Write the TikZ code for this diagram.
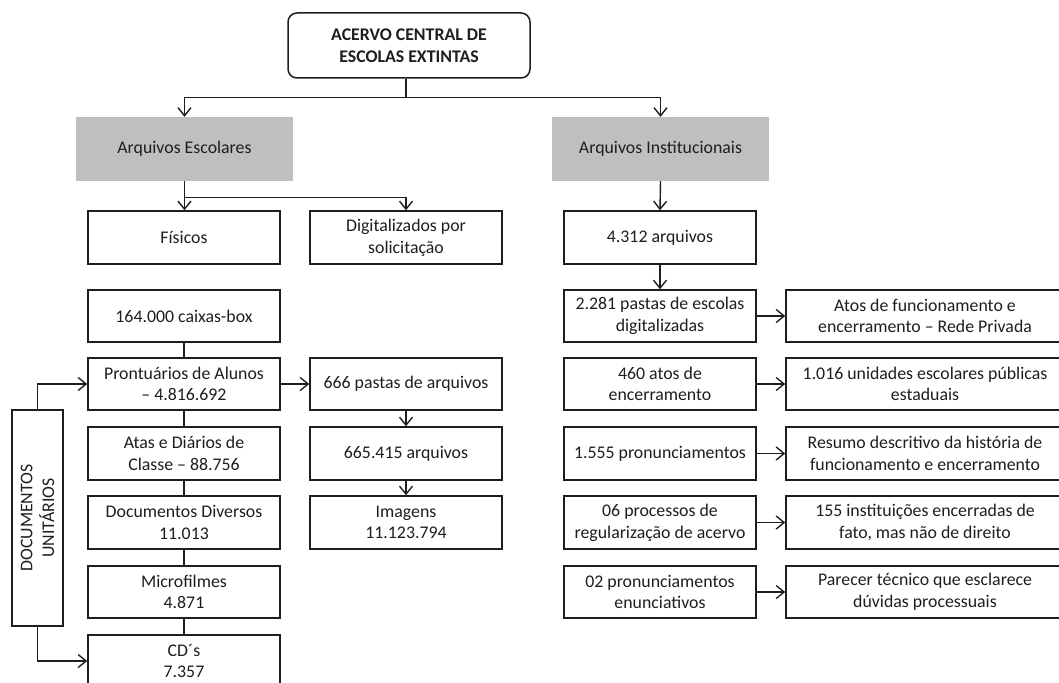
\documentclass[tikz,border=0pt]{standalone}
\usepackage{fontspec}
\setmainfont{Carlito}
\usetikzlibrary{arrows.meta}
\definecolor{grayfill}{RGB}{191,191,191}
\definecolor{ink}{RGB}{30,30,30}
\begin{document}
\begin{tikzpicture}[x=1pt,y=-1pt,
  txt/.style={font=\fontsize{17.8}{21.7}\selectfont, text=ink, align=center, inner sep=0pt},
  box/.style={txt, draw=ink, line width=1.5pt, fill=white, minimum width=#1, minimum height=52pt},
  box/.default=192pt,
  graybox/.style={txt, fill=grayfill, minimum width=217pt, minimum height=64pt},
  conn/.style={draw=ink, line width=1.4pt},
  arr/.style={conn, -{Straight Barb[length=8pt,width=13pt,line width=1.4pt]}}
]
\useasboundingbox (0,0) rectangle (1059,682);
\fill[white] (0,0) rectangle (1059,682);
\clip (0,0) rectangle (1059,682);

% top
\node[box=242pt, minimum height=65pt, rounded corners=9pt, font=\fontsize{17.8}{21.7}\selectfont\bfseries] (top) at (409,45.5) {ACERVO CENTRAL DE\\ESCOLAS EXTINTAS};
\node[graybox] (gA) at (184.5,149) {Arquivos Escolares};
\node[graybox] (gI) at (660.5,149) {Arquivos Institucionais};

\node[box, minimum height=53pt] (fis) at (184,237.5) {Físicos};
\node[box, minimum height=53pt] (dig) at (406,237.5) {Digitalizados por\\solicitação};
\node[box, minimum height=53pt] (n4312) at (660,237.5) {4.312 arquivos};

% left column
\node[box] (c164) at (184,316) {164.000 caixas-box};
\node[box] (pront) at (184,384) {Prontuários de Alunos\\– 4.816.692};
\node[box, minimum height=53pt] (atas) at (184,453.5) {Atas e Diários de\\Classe – 88.756};
\node[box, minimum height=53pt] (docd) at (184,522.5) {Documentos Diversos\\11.013};
\node[box] (micro) at (184,592) {Microfilmes\\4.871};
\node[box] (cds) at (184,661) {CD´s\\7.357};

% documentos unitarios
\node[txt, draw=ink, line width=1.5pt, rotate=90, minimum width=216pt, minimum height=51pt] (doc) at (37.5,518) {DOCUMENTOS\\UNITÁRIOS};

% middle column
\node[box] (p666) at (406,384) {666 pastas de arquivos};
\node[box, minimum height=53pt] (a665) at (406,453.5) {665.415 arquivos};
\node[box, minimum height=53pt] (img) at (406,522.5) {Imagens\\11.123.794};

% right columns
\node[box] (r1) at (660,316) {2.281 pastas de escolas\\digitalizadas};
\node[box] (r2) at (660,384) {460 atos de\\encerramento};
\node[box, minimum height=53pt] (r3) at (660,453.5) {1.555 pronunciamentos};
\node[box, minimum height=53pt] (r4) at (660,522.5) {06 processos de\\regularização de acervo};
\node[box] (r5) at (660,592) {02 pronunciamentos\\enunciativos};

\node[box=278pt] (s1) at (925,316) {Atos de funcionamento e\\encerramento – Rede Privada};
\node[box=278pt] (s2) at (925,384) {1.016 unidades escolares públicas\\estaduais};
\node[box=278pt, minimum height=53pt] (s3) at (925,453.5) {Resumo descritivo da história de\\funcionamento e encerramento};
\node[box=278pt, minimum height=53pt] (s4) at (925,522.5) {155 instituições encerradas de\\fato, mas não de direito};
\node[box=278pt] (s5) at (925,592) {Parecer técnico que esclarece\\dúvidas processuais};

% connectors
\draw[conn] ([xshift=-3pt]top.south) -- ++(0,19) coordinate (j1);
\draw[arr] (j1) -| (gA.north);
\draw[arr] (j1) -| (gI.north);
\draw[arr] (gA.south) -- (gA.south |- fis.north);
\draw[arr] (gA.south) -- ++(0,16) -| (dig.north);
\draw[arr] (gI.south) -- (n4312.north);
\draw[arr] (n4312.south) -- (r1.north);

\draw[conn] (c164.south) -- (pront.north);
\draw[conn] (pront.south) -- (atas.north);
\draw[conn] (atas.south) -- (docd.north);
\draw[conn] (docd.south) -- (micro.north);
\draw[conn] (micro.south) -- (cds.north);

\draw[arr] (doc.east) |- (pront.west);
\draw[arr] (doc.west) |- (cds.west);

\draw[arr] (pront.east) -- (p666.west);
\draw[arr] (p666.south) -- (a665.north);
\draw[arr] (a665.south) -- (img.north);

\draw[arr] (r1.east) -- (s1.west);
\draw[arr] (r2.east) -- (s2.west);
\draw[arr] (r3.east) -- (s3.west);
\draw[arr] (r4.east) -- (s4.west);
\draw[arr] (r5.east) -- (s5.west);
\end{tikzpicture}
\end{document}
